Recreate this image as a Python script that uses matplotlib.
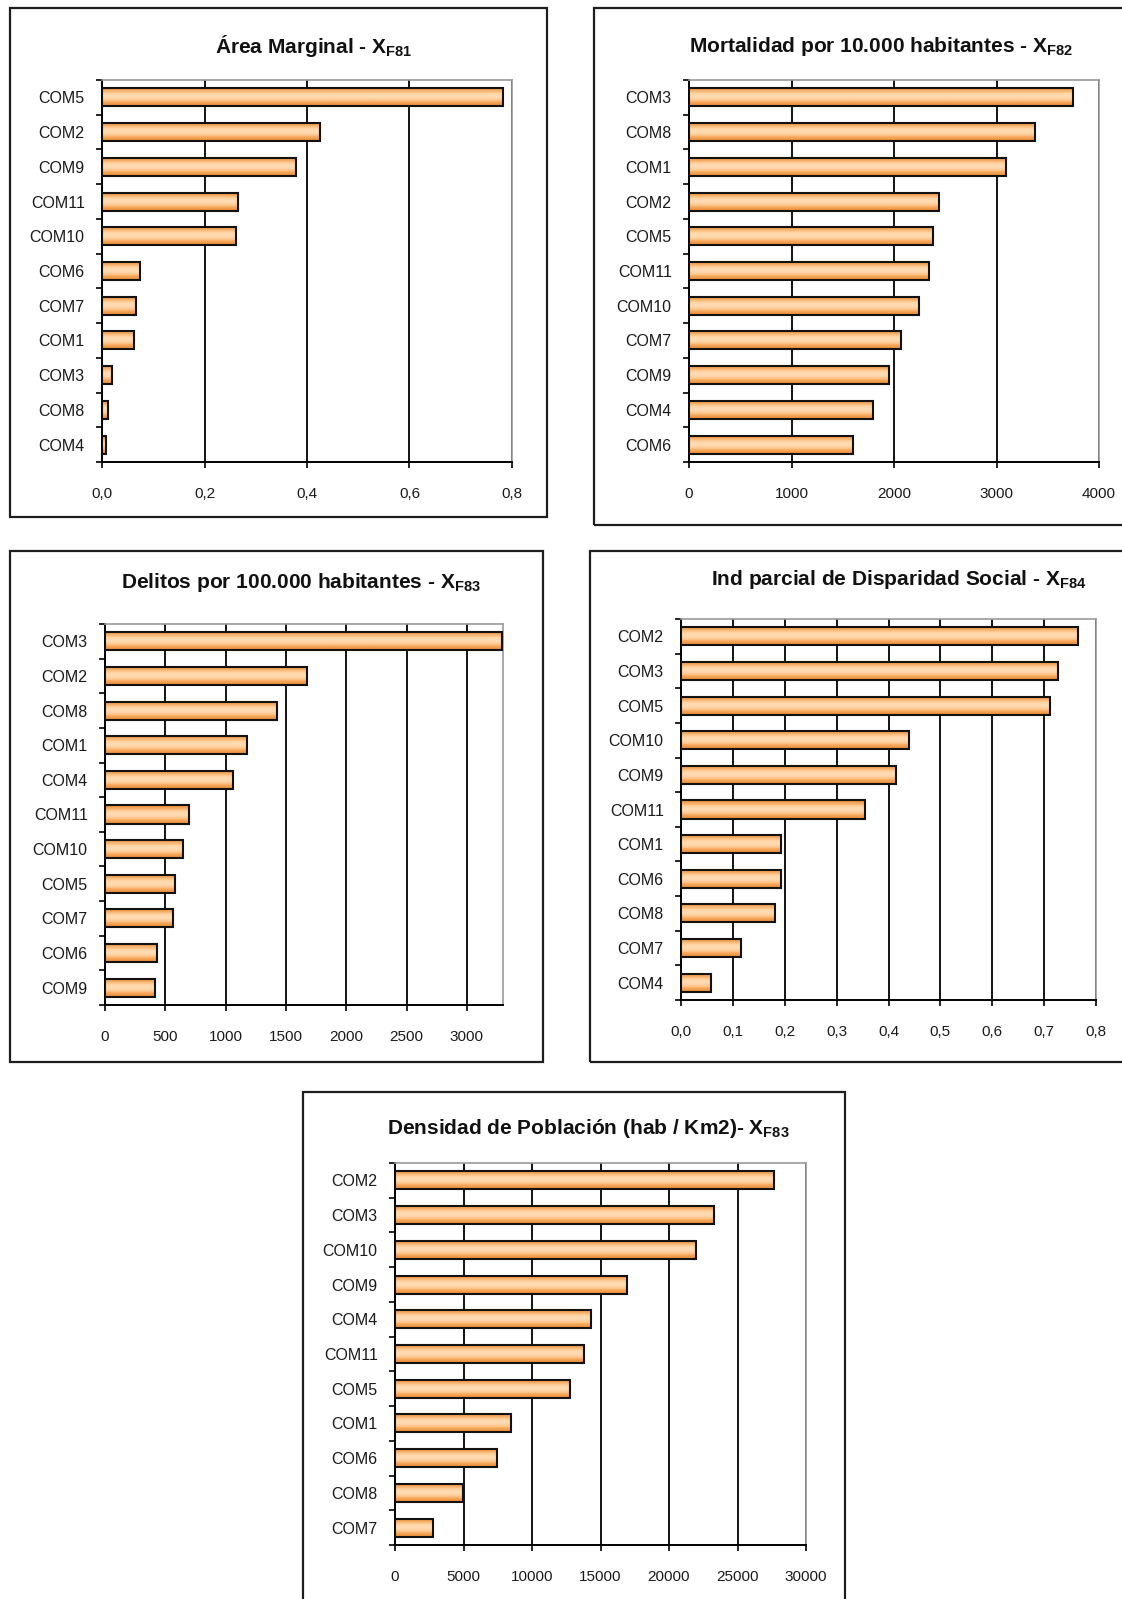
import numpy as np
import matplotlib
matplotlib.use("Agg")
import matplotlib.pyplot as plt
from matplotlib.patches import Rectangle
from matplotlib.colors import LinearSegmentedColormap

plt.rcParams["font.family"] = ["Liberation Sans", "DejaVu Sans"]
plt.rcParams["mathtext.fontset"] = "custom"
plt.rcParams["mathtext.rm"] = "Liberation Sans"
plt.rcParams["mathtext.bf"] = "Liberation Sans:bold"
plt.rcParams["mathtext.it"] = "Liberation Sans:italic"

# ---- data -------------------------------------------------------------
area_cats = ["COM5", "COM2", "COM9", "COM11", "COM10", "COM6", "COM7", "COM1", "COM3", "COM8", "COM4"]
area_vals = [0.783, 0.425, 0.378, 0.265, 0.261, 0.074, 0.066, 0.062, 0.019, 0.011, 0.008]

mort_cats = ["COM3", "COM8", "COM1", "COM2", "COM5", "COM11", "COM10", "COM7", "COM9", "COM4", "COM6"]
mort_vals = [3750, 3380, 3090, 2440, 2382, 2342, 2247, 2069, 1954, 1799, 1604]

delit_cats = ["COM3", "COM2", "COM8", "COM1", "COM4", "COM11", "COM10", "COM5", "COM7", "COM6", "COM9"]
delit_vals = [3290, 1672, 1426, 1175, 1059, 695, 645, 577, 562, 429, 411]

disp_cats = ["COM2", "COM3", "COM5", "COM10", "COM9", "COM11", "COM1", "COM6", "COM8", "COM7", "COM4"]
disp_vals = [0.766, 0.727, 0.711, 0.439, 0.415, 0.354, 0.192, 0.192, 0.181, 0.116, 0.057]

dens_cats = ["COM2", "COM3", "COM10", "COM9", "COM4", "COM11", "COM5", "COM1", "COM6", "COM8", "COM7"]
dens_vals = [27650, 23280, 21970, 16970, 14330, 13800, 12740, 8490, 7460, 4950, 2770]

area_ticks = [0.0, 0.2, 0.4, 0.6, 0.8]
mort_ticks = [0, 1000, 2000, 3000, 4000]
delit_ticks = [0, 500, 1000, 1500, 2000, 2500, 3000]
disp_ticks = [0.0, 0.1, 0.2, 0.3, 0.4, 0.5, 0.6, 0.7, 0.8]
dens_ticks = [0, 5000, 10000, 15000, 20000, 25000, 30000]

# ---- figure -----------------------------------------------------------
W, H = 1122, 1599
fig = plt.figure(figsize=(W / 100, H / 100), dpi=100)

bar_cmap = LinearSegmentedColormap.from_list(
    "bar", ["#E9842A", "#F6AB60", "#FFD4A4", "#FFDDB6", "#FFCC98", "#F4A250", "#EC8A34"])


def frame(x0, y0, x1, y1):
    fig.patches.append(Rectangle((x0 / W, 1 - y1 / H), (x1 - x0) / W, (y1 - y0) / H,
                                 transform=fig.transFigure, fill=False,
                                 edgecolor="#1e1e1e", linewidth=1.6))


def panel(box, title, title_xy, cats, vals, ticks, xmax, decimals):
    x0, y0, x1, y1 = box
    ax = fig.add_axes([x0 / W, 1 - y1 / H, (x1 - x0) / W, (y1 - y0) / H])
    n = len(cats)
    ypos = np.arange(n)
    h = 0.52
    bars = ax.barh(ypos, vals, height=h, color="#F6AB60", edgecolor="none", zorder=2)
    grad = np.linspace(0, 1, 128).reshape(-1, 1)
    for b, y, v in zip(bars, ypos, vals):
        im = ax.imshow(grad, extent=(0, v, y + h / 2, y - h / 2), cmap=bar_cmap,
                       aspect="auto", interpolation="bilinear", zorder=2.5)
        im.set_clip_path(b)
    ax.barh(ypos, vals, height=h, fill=False, edgecolor="#111111", linewidth=1.5, zorder=3)

    ax.set_xlim(0, xmax)
    ax.set_ylim(n - 0.5, -0.5)

    ax.set_xticks(ticks)
    if decimals:
        ax.set_xticklabels([f"{t:.1f}".replace(".", ",") for t in ticks])
    else:
        ax.set_xticklabels([f"{t:d}" for t in ticks])
    ax.xaxis.grid(True, color="black", linewidth=1.3, zorder=1)
    ax.set_axisbelow(True)

    ax.set_yticks(ypos)
    ax.set_yticklabels(cats)
    ax.set_yticks(np.arange(n + 1) - 0.5, minor=True)
    ax.tick_params(axis="y", which="major", length=0, pad=12.5, labelsize=11.5, labelcolor="#1a1a1a")
    ax.tick_params(axis="y", which="minor", length=4, width=1.2, direction="out", color="black")
    ax.tick_params(axis="x", which="major", length=4, width=1.2, direction="out", pad=14,
                   labelsize=11, labelcolor="#1a1a1a")

    for s in ("left", "bottom"):
        ax.spines[s].set_color("black")
        ax.spines[s].set_linewidth(1.4)
    for s in ("top", "right"):
        ax.spines[s].set_color("#9a9a9a")
        ax.spines[s].set_linewidth(1.2)

    fig.text(title_xy[0] / W, 1 - title_xy[1] / H, title, ha="center", va="center",
             fontsize=15, fontweight="bold", color="#111111")
    return ax


frame(10, 8, 547, 517)
panel((102, 80, 512, 462), r"Área Marginal - X$_{\mathbf{F81}}$", (314, 46),
      area_cats, area_vals, area_ticks, 0.8, True)

frame(594, 8, 1135, 525)
panel((689, 80, 1099, 462), r"Mortalidad por 10.000 habitantes - X$_{\mathbf{F82}}$", (881, 46),
      mort_cats, mort_vals, mort_ticks, 4000, False)

frame(10, 551, 543, 1062)
panel((105, 624, 503, 1005), r"Delitos por 100.000 habitantes - X$_{\mathbf{F83}}$", (301, 583),
      delit_cats, delit_vals, delit_ticks, 3300, False)

frame(590, 551, 1135, 1062)
panel((681, 619, 1096, 1000), r"Ind parcial de Disparidad Social - X$_{\mathbf{F84}}$", (899, 580),
      disp_cats, disp_vals, disp_ticks, 0.8, True)

frame(303, 1092, 845, 1620)
panel((395, 1163, 806, 1545), r"Densidad de Población (hab / Km2)- X$_{\mathbf{F83}}$", (588, 1129),
      dens_cats, dens_vals, dens_ticks, 30000, False)

fig.savefig("out.png", dpi=100, facecolor="white")
